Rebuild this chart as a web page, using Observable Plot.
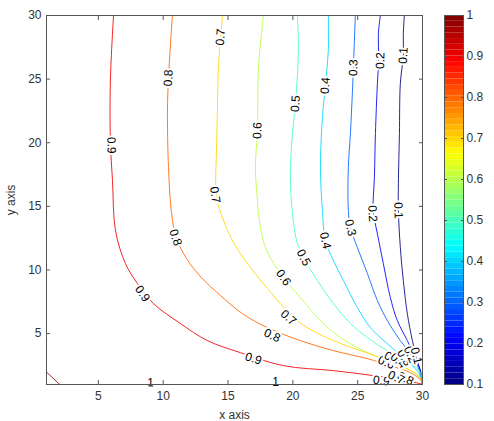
<!DOCTYPE html>
<html><head><meta charset="utf-8">
<script src="https://cdn.jsdelivr.net/npm/d3@7"></script>
<script src="https://cdn.jsdelivr.net/npm/@observablehq/plot@0.6"></script>
<style>
body{margin:0;background:#fff;font-family:"Liberation Sans",Arial,sans-serif;}
#wrap{position:relative;width:494px;height:421px;background:#fff;overflow:hidden}
#main{position:absolute;left:0;top:0}
#cbar{position:absolute;left:444px;top:0}
</style></head><body><div id="wrap"><div id="main"></div><div id="cbar"></div></div>
<script>
// ---- data ----
const levels = [0.1, 0.2, 0.3, 0.4, 0.5, 0.6, 0.7, 0.8, 0.9, 1];
const xTicks = [5, 10, 15, 20, 25, 30];
const yTicks = [5, 10, 15, 20, 25, 30];
const cbarTicks = [0.1, 0.2, 0.3, 0.4, 0.5, 0.6, 0.7, 0.8, 0.9, 1];

const c01 = [[28.6,30],[28.52,28.58],[28.52,26.86],[28.29,24.65],[28.22,20.72],[28.14,16.79],[28.14,14.67],[28.29,11.76],[28.52,9.17],[28.83,6.57],[29.22,4.45],[29.6,2.88],[29.91,1.7],[30,1]];
const c02 = [[26.75,30],[26.6,28.58],[26.62,26.46],[26.52,24.65],[26.37,20.72],[26.29,17.26],[26.2,14.6],[26.52,12.86],[26.98,10.5],[27.52,7.83],[28.06,6.02],[28.83,4.45],[29.3,3.43],[29.84,2.1],[30,1]];
const c03 = [[24.82,30],[24.67,25.9],[24.59,23.87],[24.44,20.72],[24.28,18.05],[24.28,14.67],[24.44,13.33],[24.98,11.76],[25.75,9.72],[26.52,7.6],[27.29,6.02],[28.29,4.45],[29.07,3.43],[29.68,2.33],[30,1]];
const c04 = [[22.74,30],[22.74,27.25],[22.51,24.5],[22.28,21.98],[22.13,18.05],[22.28,14.67],[22.51,12.31],[23.13,10.74],[23.9,9.17],[24.98,7.04],[25.98,5.47],[27.29,4.21],[28.52,3.11],[29.45,2.25],[29.91,1.46],[30,1]];
const c05 = [[20.35,30],[20.43,27.25],[20.2,23.08],[19.97,20.72],[19.81,17.58],[19.97,14.43],[20.35,12.08],[20.82,10.97],[21.89,9.17],[23.13,7.36],[24.44,5.79],[25.75,4.69],[27.29,3.66],[28.83,2.88],[29.84,1.93],[30,1]];
const c06 = [[17.73,30],[17.35,25.9],[17.27,20.96],[17.11,18.05],[17.27,15.46],[17.35,14.43],[17.89,11.76],[19.27,9.4],[20.58,7.83],[22.13,6.02],[23.67,4.69],[25.44,3.66],[27.29,2.88],[28.83,2.25],[29.84,1.46],[30,1]];
const c07 = [[14.57,30],[14.26,25.9],[14.18,22.5],[14.11,19.4],[14.05,17.03],[14.1,15.85],[14.4,14.6],[15.3,12.4],[16.5,10.5],[17.73,8.93],[19.04,7.36],[19.9,6.4],[21.12,5.47],[23.13,4.45],[25.21,3.66],[26.75,3.11],[28.29,2.48],[29.68,1.7],[30,1]];
const c08 = [[10.71,30],[10.41,25.1],[10.33,22.5],[10.41,18.05],[10.65,14.43],[11.0,12.55],[11.8,10.9],[12.95,9.4],[14.42,7.99],[16.11,6.57],[18.04,5.47],[20.58,4.45],[23.13,3.66],[25.75,3.03],[27.52,2.48],[29.07,1.93],[29.91,1.3],[30,1]];
const c09 = [[6.17,30],[5.93,25],[5.93,20],[6.09,17.03],[6.32,13.1],[7.09,10.5],[8.02,8.93],[9.25,7.36],[11.33,5.79],[13.41,4.45],[15.96,3.5],[19.27,2.48],[23.13,2.09],[26.2,1.7],[28.3,1.38],[29.8,1.07],[30,1]];
const c10 = [[1.05,1.93],[2.02,1.0],[29.5,1.0]];

const labelLevel = [0.9,0.9,0.9,0.9, 0.8,0.8,0.8,0.8, 0.7,0.7,0.7,0.7, 0.6,0.6,0.6, 0.5,0.5,0.5, 0.4,0.4,0.4, 0.3,0.3,0.3, 0.2,0.2,0.2, 0.1,0.1,0.1, 1,1];
const labelX = [6.0,8.4,16.96,26.83, 10.4,10.95,18.4,28.68, 14.42,14.0,19.66,27.98, 17.27,19.27,27.2, 20.2,20.82,27.68, 22.51,22.51,28.14, 24.67,24.44,28.6, 26.75,26.14,29.07, 28.52,28.14,29.53, 9.02,18.66];
const labelY = [19.8,8.14,3.03,1.3, 25.1,12.55,4.84,1.46, 28.3,15.9,6.26,1.54, 20.96,9.4,2.72, 23.08,10.97,3.03, 24.5,12.31,2.88, 25.9,13.33,3.11, 26.46,14.43,3.35, 26.86,14.67,3.27, 1.15,1.15];

// ---- build tables ----
const contours = [c01,c02,c03,c04,c05,c06,c07,c08,c09,c10];
const lineRows = contours.slice(0, 9).flatMap((pts, i) => pts.map(([x, y]) => ({level: levels[i], x, y})));
const edgeRows = c10.map(([x, y]) => ({level: 1, x, y}));

const W = 440, H = 421, ML = 46, MR = 18, MT = 15, MB = 37;
const kx = (W - ML - MR) / 29, ky = (H - MT - MB) / 29;

function tangentAngle(level, x, y) {
  const pts = contours[levels.indexOf(level)];
  let best = 0, bd = Infinity;
  pts.forEach(([px, py], i) => { const d = (px - x) ** 2 + (py - y) ** 2; if (d < bd) { bd = d; best = i; } });
  const a = pts[Math.max(0, best - 1)], b = pts[Math.min(pts.length - 1, best + 1)];
  let ang = Math.atan2(-(b[1] - a[1]) * ky, (b[0] - a[0]) * kx) * 180 / Math.PI;
  if (ang >= 90) ang -= 180;
  if (ang < -90) ang += 180;
  return ang;
}
const labelRows = labelLevel.map((lv, i) => ({
  level: lv, x: labelX[i], y: labelY[i], text: String(lv), angle: tangentAngle(lv, labelX[i], labelY[i])
}));

function jet(t) {
  const c = v => Math.max(0, Math.min(1, v));
  const r = c(Math.min(4 * t - 1.5, -4 * t + 4.5));
  const g = c(Math.min(4 * t - 0.5, -4 * t + 3.5));
  const b = c(Math.min(4 * t + 0.5, -4 * t + 2.5));
  return d3.rgb(r * 255, g * 255, b * 255).formatHex();
}
const colorOpt = {type: "linear", domain: [0.1, 1], interpolate: jet};
const font = '"Liberation Sans", Arial, sans-serif';

const main = Plot.plot({
  width: W, height: H, marginLeft: ML, marginRight: MR, marginTop: MT, marginBottom: MB,
  x: {domain: [1, 30]}, y: {domain: [1, 30]},
  color: colorOpt,
  style: {fontFamily: font, fontSize: "12px", color: "#333", background: "white"},
  marks: [
    Plot.line(lineRows, {x: "x", y: "y", z: "level", stroke: "level", strokeWidth: 1, strokeOpacity: 0.85, curve: "catmull-rom"}),
    Plot.line(edgeRows, {x: "x", y: "y", stroke: "level", strokeWidth: 1, strokeOpacity: 0.8, curve: "linear"}),
    Plot.text(labelRows, {x: "x", y: "y", text: "text", rotate: "angle", fill: "black", stroke: "white", strokeWidth: 4, fontSize: 12, fontFamily: font}),
    Plot.frame({stroke: "#555"}),
    Plot.axisX(xTicks, {anchor: "bottom", tickSize: 0, tickPadding: 7, label: "x axis", labelAnchor: "center", labelArrow: "none", labelOffset: 34, fill: "#333"}),
    Plot.axisX(xTicks, {anchor: "bottom", tickSize: -4, tickFormat: () => "", label: null, stroke: "#555"}),
    Plot.axisX(xTicks, {anchor: "top", tickSize: -4, tickFormat: () => "", label: null, stroke: "#555"}),
    Plot.axisY(yTicks, {anchor: "left", tickSize: 0, tickPadding: 5, label: "y axis", labelAnchor: "center", labelArrow: "none", labelOffset: 40, fill: "#333"}),
    Plot.axisY(yTicks, {anchor: "left", tickSize: -4, tickFormat: () => "", label: null, stroke: "#555"}),
    Plot.axisY(yTicks, {anchor: "right", tickSize: -4, tickFormat: () => "", label: null, stroke: "#555"})
  ]
});
document.getElementById("main").appendChild(main);

// colorbar (legend)
const nBands = 64;
const bands = d3.range(nBands).map(i => ({y1: 0.1 + i * 0.9 / nBands, y2: 0.1 + (i + 1) * 0.9 / nBands, v: 0.1 + (i + 0.5) * 0.9 / nBands}));
const cbar = Plot.plot({
  width: 50, height: H, marginLeft: 0, marginRight: 31, marginTop: MT, marginBottom: MB,
  x: {domain: [0, 1], axis: null}, y: {domain: [0.1, 1]},
  color: colorOpt,
  style: {fontFamily: font, fontSize: "12px", color: "#333", background: "transparent"},
  marks: [
    Plot.rect(bands, {x1: 0, x2: 1, y1: "y1", y2: "y2", fill: "v"}),
    Plot.frame({stroke: "#555"}),
    Plot.axisY(cbarTicks, {anchor: "right", tickSize: 0, tickPadding: 3, tickFormat: d => String(+d.toFixed(1)), label: null, fill: "#333"}),
    Plot.axisY(cbarTicks, {anchor: "right", tickSize: -3, tickFormat: () => "", label: null, stroke: "#555"}),
    Plot.axisY(cbarTicks, {anchor: "left", tickSize: -3, tickFormat: () => "", label: null, stroke: "#555"})
  ]
});
document.getElementById("cbar").appendChild(cbar);
</script></body></html>
